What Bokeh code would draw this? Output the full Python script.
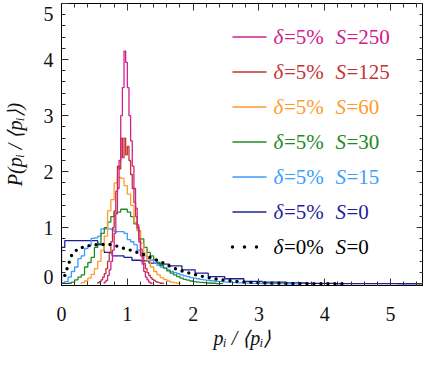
import numpy as np
from bokeh.plotting import figure
from bokeh.models import Label, Arrow, LinearAxis, SingleIntervalTicker, FixedTicker
from bokeh.embed import file_html
from bokeh.resources import INLINE

FONT = "Liberation Serif"

# ---------------- data ----------------
# each histogram: first bin edge, bin width, bin heights
s250_start, s250_width = 0.65, 0.025
s250 = [0.03, 0.06, 0.15, 0.25, 0.4, 0.6, 0.9, 1.25, 1.7, 2.2, 3.0, 3.5, 4.15,
        3.95, 3.5, 3.0, 2.55, 2.1, 1.7, 1.35, 1.05, 0.75, 0.5, 0.35, 0.22,
        0.12, 0.07, 0.03, 0.01]

s125_start, s125_width = 0.55, 0.025
s125 = [0.02, 0.04, 0.07, 0.12, 0.18, 0.27, 0.4, 0.55, 0.75, 1.0, 1.3, 1.65,
        2.1, 2.05, 2.6, 2.25, 2.6, 2.3, 2.45, 2.2, 1.95, 1.7, 1.45, 1.2, 1.0,
        0.8, 0.62, 0.48, 0.36, 0.27, 0.2, 0.15, 0.11, 0.08, 0.06, 0.04, 0.03,
        0.02, 0.01, 0.01]

s60_start, s60_width = 0.30, 0.05
s60 = [0.02, 0.05, 0.1, 0.17, 0.27, 0.4, 0.6, 0.85, 1.3, 1.5, 1.8, 1.9, 1.88,
       1.75, 1.6, 1.4, 1.1, 0.95, 0.72, 0.55, 0.42, 0.3, 0.22, 0.16, 0.11,
       0.08, 0.05, 0.03, 0.02, 0.01]

s30_start, s30_width = 0.10, 0.05
s30 = [0.01, 0.03, 0.07, 0.12, 0.16, 0.3, 0.38, 0.47, 0.65, 0.72, 0.9, 1.0,
       1.1, 1.2, 1.28, 1.28, 1.33, 1.33, 1.28, 1.2, 1.07, 0.95, 0.8, 0.65,
       0.56, 0.5, 0.43, 0.38, 0.33, 0.28, 0.23, 0.19, 0.16, 0.13, 0.1, 0.08,
       0.065, 0.05, 0.04, 0.03, 0.025, 0.02, 0.015, 0.01, 0.01, 0.005, 0.005]

s15_start, s15_width = 0.0, 0.05
s15 = [0.02, 0.04, 0.12, 0.22, 0.3, 0.45, 0.5, 0.63, 0.68, 0.81, 0.82, 0.85,
       0.98, 0.98, 0.98, 0.97, 0.93, 0.93, 0.93, 0.9, 0.79, 0.75, 0.7, 0.6,
       0.55, 0.5, 0.45, 0.42, 0.37, 0.33, 0.3, 0.28, 0.25, 0.22, 0.2, 0.18,
       0.16, 0.14, 0.13, 0.11, 0.1, 0.09, 0.08, 0.07, 0.06, 0.055, 0.05,
       0.045, 0.04, 0.035, 0.03, 0.025, 0.02, 0.018, 0.016, 0.014, 0.012,
       0.01, 0.009, 0.008, 0.007, 0.006, 0.005, 0.004, 0.003, 0.003, 0.002,
       0.002, 0.001, 0.001, 0.001, 0.001]

# delta = 5 %, S = 0: wider, growing bins (edges)
s0_edges = [0.0, 0.05, 0.55, 0.65, 0.77, 0.95, 1.07, 1.2, 1.33, 1.48, 1.64,
            1.83, 2.03, 2.23, 2.48, 2.77, 3.05, 3.4, 3.75, 4.15, 4.6, 5.1, 5.5]
s0 = [0.65, 0.77, 0.7, 0.56, 0.5, 0.47, 0.42, 0.41, 0.37, 0.35, 0.32, 0.25,
      0.19, 0.13, 0.09, 0.045, 0.03, 0.015, 0.008, 0.004, 0.002, 0.001]

# delta = 0 %, S = 0 (dotted, bin centres)
d0_start, d0_width = 0.0, 0.1
d0 = [0.15, 0.5, 0.63, 0.66, 0.69, 0.7, 0.7, 0.7, 0.67, 0.63, 0.6, 0.56,
      0.52, 0.47, 0.42, 0.37, 0.31, 0.26, 0.22, 0.19, 0.16, 0.13, 0.105,
      0.085, 0.07, 0.056, 0.045, 0.036, 0.028, 0.022, 0.017, 0.013, 0.01,
      0.008, 0.006, 0.005, 0.004, 0.003, 0.002, 0.002, 0.001, 0.001, 0.001,
      0.001]

delta_labels = ["5%", "5%", "5%", "5%", "5%", "5%", "0%"]
S_labels = ["250", "125", "60", "30", "15", "0", "0"]
colors = ["#d0208e", "#c23333", "#ff9a2e", "#238a23", "#3a9cff", "#1f1f9c", "#000000"]

x_ticks = [0, 1, 2, 3, 4, 5]
y_ticks = [0, 1, 2, 3, 4, 5]
y_tick_labels = ["0", "1", "2", "3", "4", "5"]
x_label = "p\u1d62 / \u27e8p\u1d62\u27e9"
y_label = "P(p\u1d62 / \u27e8p\u1d62\u27e9)"

# ---------------- figure ----------------
FW, FH = 362, 282
Y0, Y1 = -0.03, 5.0
p = figure(frame_width=FW, frame_height=FH, x_range=(0, 5.5), y_range=(Y0, Y1),
           output_backend="svg", toolbar_location=None,
           min_border_left=57, min_border_right=0, min_border_top=3, min_border_bottom=68)
p.background_fill_color = "white"
p.border_fill_color = "white"
p.outline_line_color = "black"
p.xgrid.visible = False
p.ygrid.visible = False


def style_axis(ax):
    ax.axis_line_color = "black"
    ax.major_tick_in = 7
    ax.major_tick_out = 0
    ax.minor_tick_in = 4
    ax.minor_tick_out = 0
    ax.major_tick_line_color = "#333333"
    ax.minor_tick_line_color = "#333333"
    ax.major_label_text_font = FONT
    ax.major_label_text_font_size = "20px"
    ax.major_label_text_color = "#111111"
    ax.axis_label_text_font = FONT
    ax.axis_label_text_font_size = "20px"
    ax.axis_label_text_font_style = "italic"
    ax.axis_label_text_color = "#111111"


p.xaxis.ticker = SingleIntervalTicker(interval=1, num_minor_ticks=5)
p.yaxis.ticker = SingleIntervalTicker(interval=1, num_minor_ticks=5)
style_axis(p.xaxis[0])
style_axis(p.yaxis[0])
p.xaxis.axis_label = x_label
p.xaxis.major_label_standoff = 21
p.xaxis.axis_label_standoff = 3

# left axis: ticks only
p.yaxis.major_label_overrides = {v: "" for v in y_ticks}
p.yaxis.major_label_standoff = 0
p.yaxis.major_label_text_font_size = "1px"

# second left axis carrying the tick labels; the end labels are pulled
# inside the frame by a few pixels, as in the reference
ppx = (Y1 - Y0) / FH
label_pos = [round(v + (7 * ppx if i == 0 else (-11 * ppx if i == len(y_ticks) - 1 else 0)), 4)
             for i, v in enumerate(y_ticks)]
lab_ax = LinearAxis(ticker=FixedTicker(ticks=label_pos, minor_ticks=[]))
style_axis(lab_ax)
lab_ax.axis_line_color = None
lab_ax.major_tick_line_color = None
lab_ax.minor_tick_line_color = None
lab_ax.major_tick_in = 0
lab_ax.minor_tick_in = 0
lab_ax.major_label_standoff = 8
lab_ax.major_label_overrides = {pos: t for pos, t in zip(label_pos, y_tick_labels)}
lab_ax.axis_label = y_label
lab_ax.axis_label_standoff = 15
p.add_layout(lab_ax, "left")

for loc in ("above", "right"):
    ax = LinearAxis(ticker=SingleIntervalTicker(interval=1, num_minor_ticks=5))
    style_axis(ax)
    ax.major_label_overrides = {v: "" for v in x_ticks}
    ax.major_label_standoff = 0
    ax.major_label_text_font_size = "1px"
    p.add_layout(ax, loc)


def step_xy(edges, vals):
    vals = np.asarray(vals, dtype=float)
    xs = np.repeat(np.asarray(edges, dtype=float), 2)
    ys = np.concatenate([[0.0], np.repeat(vals, 2), [0.0]])
    return xs, ys


def uniform_edges(start, width, vals):
    return start + width * np.arange(len(vals) + 1)


hists = [(s0_edges, s0, colors[5]),
         (uniform_edges(s15_start, s15_width, s15), s15, colors[4]),
         (uniform_edges(s30_start, s30_width, s30), s30, colors[3]),
         (uniform_edges(s60_start, s60_width, s60), s60, colors[2]),
         (uniform_edges(s125_start, s125_width, s125), s125, colors[1]),
         (uniform_edges(s250_start, s250_width, s250), s250, colors[0])]
for edges, vals, col in hists:
    xs, ys = step_xy(edges, vals)
    p.line(xs, ys, line_color=col, line_width=1.3)

dx = d0_start + d0_width * (np.arange(len(d0)) + 0.5)
p.line(dx, d0, line_color="black", line_width=3.4, line_dash="0 7", line_cap="round")

# ---------------- legend (screen units, relative to frame) ----------------
row0 = 33.5
row_step = 35
for i, (dl, sl, col) in enumerate(zip(delta_labels, S_labels, colors)):
    yy = FH - (row0 + row_step * i)
    if i == 6:
        p.add_layout(Arrow(end=None, x_start=171, y_start=yy, x_end=207, y_end=yy,
                           start_units="screen", end_units="screen",
                           line_color=col, line_width=3.4, line_dash="0 12",
                           line_cap="round"))
    else:
        p.add_layout(Arrow(end=None, x_start=171, y_start=yy, x_end=205, y_end=yy,
                           start_units="screen", end_units="screen",
                           line_color=col, line_width=1.3))
    parts = [("\u03b4", "italic", 212), ("=" + dl, "normal", 222.5),
             ("S", "italic", 274), ("=" + sl, "normal", 285)]
    for txt, style, xx in parts:
        p.add_layout(Label(x=xx, y=yy, x_units="screen", y_units="screen", text=txt,
                           text_align="left", text_baseline="middle",
                           text_font=FONT, text_font_size="21px",
                           text_font_style=style, text_color=col))

open("out.html", "w").write(file_html(p, INLINE))
